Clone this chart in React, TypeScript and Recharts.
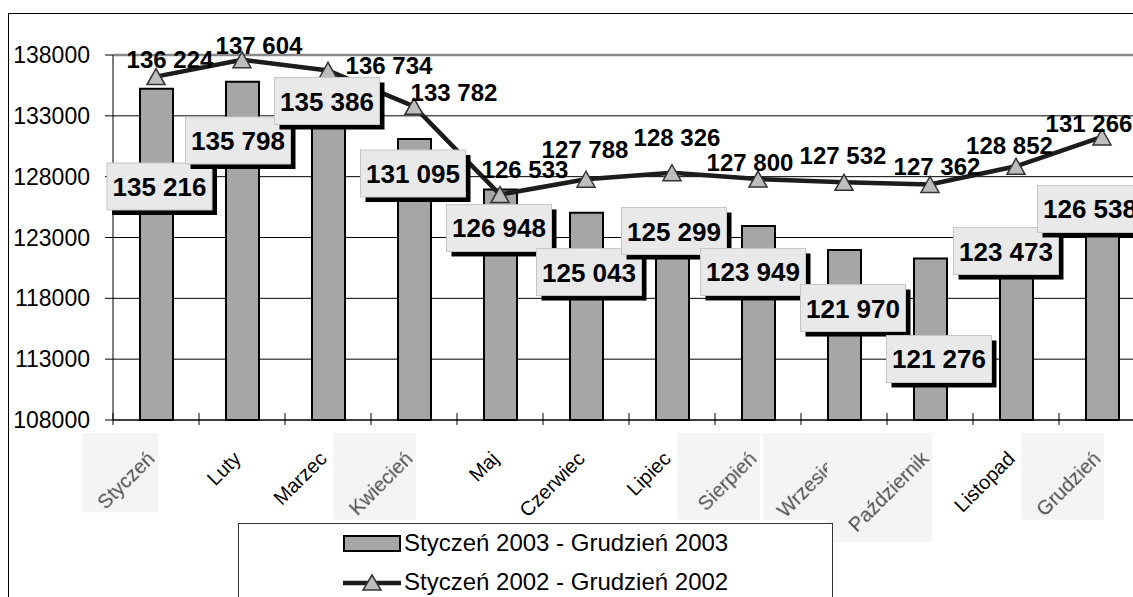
import React from "react";
import {
  ComposedChart, Bar, Line, XAxis, YAxis, CartesianGrid, LabelList, Legend, ReferenceLine
} from "recharts";

const months = [
  "Styczeń", "Luty", "Marzec", "Kwiecień", "Maj", "Czerwiec",
  "Lipiec", "Sierpień", "Wrzesień", "Październik", "Listopad", "Grudzień",
];
const values2003 = [135216, 135798, 135386, 131095, 126948, 125043, 125299, 123949, 121970, 121276, 123473, 126538];
const values2002 = [136224, 137604, 136734, 133782, 126533, 127788, 128326, 127800, 127532, 127362, 128852, 131266];
const yTicks = [108000, 113000, 118000, 123000, 128000, 133000, 138000];
const name2003 = "Styczeń 2003 - Grudzień 2003";
const name2002 = "Styczeń 2002 - Grudzień 2002";

// labels were dragged around by hand in the original, so offsets from the point (px)
const boxOffsets = [
  [3.5, 97.6], [-4, 58.7], [-1, 14.2], [-1, 34.5], [-1, 38.5], [3, 59.4],
  [2, 21.5], [-5, 46], [9, 58], [9, 100.5], [-10, 19.3], [-12, 14.5],
];
const lineLabelOffsets = [
  [14, -17], [17, -14], [61, -5], [40, -14], [25, -25], [-1, -30],
  [5, -35], [-8, -16.5], [-1, -27], [7, -18], [-6.5, -21], [-13, -13],
];

const FONT = '"Liberation Sans", Arial, sans-serif';

const data = months.map((month, i) => ({
  month,
  y2003: values2003[i],
  y2002: values2002[i],
}));

const fmt = (v: number) => String(v).replace(/\B(?=(\d{3})+(?!\d))/g, " ");

const pointOf = (props: any) => {
  const vb = props.viewBox || {};
  return { x: Number(props.x ?? vb.x), y: Number(props.y ?? vb.y) };
};

const BoxLabel = (props: any) => {
  const { x, y } = pointOf(props);
  const [dx, dy] = boxOffsets[props.index] || [0, 0];
  const cx = x + dx;
  const cy = y + dy;
  const w = 105;
  const h = 47;
  return (
    <g>
      <rect x={cx - w / 2 + 5} y={cy - h / 2 + 5} width={w} height={h} fill="#000" />
      <rect x={cx - w / 2} y={cy - h / 2} width={w} height={h} fill="#e9e9e9" stroke="#c6c6c6" strokeWidth={1} />
      <text x={cx} y={cy + 9.5} textAnchor="middle" fontFamily={FONT} fontSize={26} fontWeight="bold" fill="#000">
        {fmt(Number(props.value))}
      </text>
    </g>
  );
};

const LineLabel = (props: any) => {
  const { x, y } = pointOf(props);
  const [dx, dy] = lineLabelOffsets[props.index] || [0, 0];
  return (
    <text x={x + dx} y={y + dy + 8.5} textAnchor="middle" fontFamily={FONT} fontSize={24} fontWeight="bold" fill="#000">
      {fmt(Number(props.value))}
    </text>
  );
};

const Triangle = (props: any) => {
  const { cx, cy } = props;
  if (cx == null || cy == null) return null;
  return (
    <polygon
      points={`${cx},${cy - 8} ${cx - 9},${cy + 8} ${cx + 9},${cy + 8}`}
      fill="#bdbdbd"
      stroke="#333"
      strokeWidth={1.5}
    />
  );
};

const MonthTick = (props: any) => {
  const x = Number(props.x);
  const y = Number(props.y);
  const { payload, index } = props;
  const half = Number(payload?.offset) || 43;
  const label = String(payload.value);
  // the scanned original has the labels with Polish letters smudged on a light patch
  const smudged = /[ąćęłńóśźż]/i.test(label);
  const ax = x;
  const ay = y + 40;
  const diag = label.length * 0.52 * 20 * 0.707;
  return (
    <g>
      <line x1={x - half} x2={x - half} y1={y - 7} y2={y + 5} stroke="#000" strokeWidth={1} />
      {index === months.length - 1 && (
        <line x1={x + half} x2={x + half} y1={y - 7} y2={y + 5} stroke="#000" strokeWidth={1} />
      )}
      {smudged && (
        <rect x={ax - diag - 22} y={ay - 27} width={diag + 24} height={diag + 28} fill="#f4f4f4" />
      )}
      <g transform={`translate(${ax} ${ay}) rotate(-45)`}>
        <text
          x={0}
          y={0}
          textAnchor="end"
          fontFamily={FONT}
          fontSize={20}
          fill={smudged ? "#4a4a4a" : "#000"}
          style={smudged ? { filter: "blur(0.7px)" } : undefined}
        >
          {label}
        </text>
      </g>
    </g>
  );
};

const LegendBox = () => (
  <div style={{ width: 595, height: 100, border: "1px solid #333", boxSizing: "border-box", background: "#fff" }}>
    <svg width={593} height={98} style={{ display: "block" }}>
      <rect x={105} y={12} width={56} height={15} fill="#a6a6a6" stroke="#000" strokeWidth={2} />
      <text x={165} y={27} fontFamily={FONT} fontSize={24} fill="#000">{name2003}</text>
      <line x1={104} x2={162} y1={59} y2={59} stroke="#1c1c1c" strokeWidth={4.5} />
      <polygon points="133,51 124,66 142,66" fill="#bdbdbd" stroke="#333" strokeWidth={1.5} />
      <text x={165} y={66} fontFamily={FONT} fontSize={24} fill="#000">{name2002}</text>
    </svg>
  </div>
);

export default function App() {
  return (
    <div style={{ position: "fixed", left: 0, top: 0, width: 1133, height: 597, overflow: "hidden", background: "#fff" }}>
      <div style={{ position: "absolute", left: 8, top: 13, width: 1300, height: 800, border: "1.5px solid #000" }} />
      <div style={{ position: "absolute", left: 0, top: 0 }}>
        <ComposedChart width={1160} height={640} data={data} margin={{ top: 55, right: 15, bottom: 0, left: 0 }}>
          <CartesianGrid vertical={false} stroke="#000" strokeWidth={1} />
          <ReferenceLine y={138000} stroke="#8a8a8a" strokeWidth={2.5} />
          <XAxis
            dataKey="month"
            height={220}
            interval={0}
            tickSize={0}
            tickMargin={0}
            stroke="#000"
            tick={<MonthTick />}
          />
          <YAxis
            width={113}
            domain={[108000, 138000]}
            ticks={yTicks}
            interval={0}
            tickSize={8}
            tickMargin={15}
            stroke="#000"
            tick={{ fontFamily: FONT, fontSize: 23, fill: "#000" }}
          />
          <Bar dataKey="y2003" name={name2003} barSize={33} fill="#a6a6a6" stroke="#000" strokeWidth={2} isAnimationActive={false} />
          <Line
            dataKey="y2002"
            name={name2002}
            type="linear"
            stroke="#1c1c1c"
            strokeWidth={4.5}
            dot={<Triangle />}
            activeDot={false}
            isAnimationActive={false}
          >
            <LabelList dataKey="y2002" content={<LineLabel />} />
          </Line>
          <Line
            dataKey="y2003"
            legendType="none"
            stroke="none"
            dot={false}
            activeDot={false}
            isAnimationActive={false}
          >
            <LabelList dataKey="y2003" content={<BoxLabel />} />
          </Line>
          <Legend
            layout="vertical"
            align="center"
            verticalAlign="middle"
            wrapperStyle={{ position: "absolute", left: 238, top: 523, right: "auto", bottom: "auto", width: 595, height: 100 }}
            content={() => <LegendBox />}
          />
        </ComposedChart>
      </div>
    </div>
  );
}
